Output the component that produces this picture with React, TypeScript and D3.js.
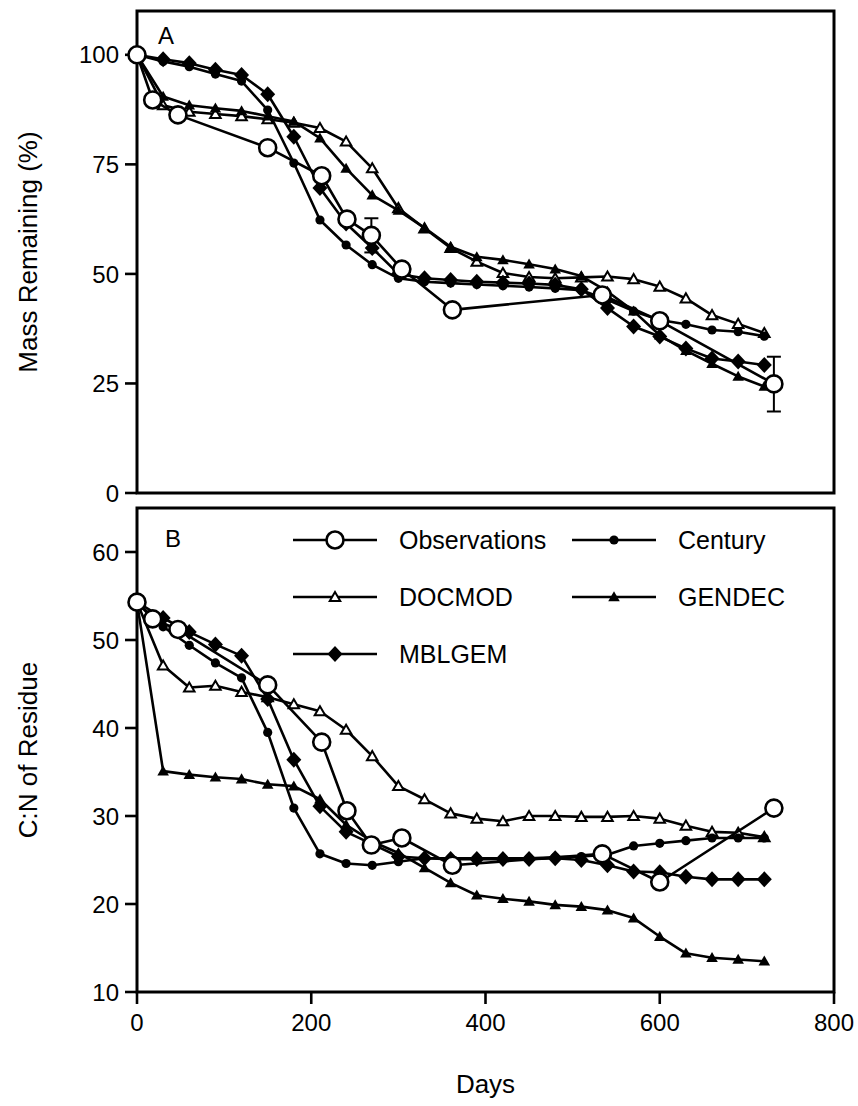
import * as d3 from 'd3';

const modelDays = [0, 30, 60, 90, 120, 150, 180, 210, 240, 270, 300, 330, 360, 390, 420, 450, 480, 510, 540, 570, 600, 630, 660, 690, 720];

// panel A: mass remaining (%)
const centuryA = [100, 98.5, 97.3, 95.6, 94.0, 87.4, 75.3, 62.3, 56.6, 52.1, 49.0, 48.2, 47.9, 47.6, 47.3, 47.0, 46.7, 46.3, 44.1, 41.5, 39.5, 38.5, 37.2, 36.8, 35.8];
const docmodA = [100, 88.5, 87.0, 86.5, 86.0, 85.3, 84.5, 83.3, 80.2, 74.1, 65.0, 60.4, 55.9, 52.8, 50.2, 49.3, 49.0, 49.2, 49.4, 48.8, 47.1, 44.4, 40.6, 38.6, 36.5];
const gendecA = [100, 90.5, 88.5, 87.8, 87.2, 86.0, 84.8, 81.0, 74.1, 68.0, 64.5, 60.5, 56.2, 53.9, 53.2, 52.2, 51.1, 49.5, 46.0, 41.5, 36.0, 32.5, 29.5, 26.6, 24.3];
const mblgemA = [100, 99.0, 98.1, 96.6, 95.4, 91.0, 81.3, 69.6, 61.5, 55.9, 50.0, 49.0, 48.6, 48.2, 48.0, 47.8, 47.5, 46.5, 42.2, 38.0, 35.7, 33.0, 30.7, 30.0, 29.2];

// panel B: C:N of residue
const centuryB = [54.3, 51.5, 49.4, 47.4, 45.7, 39.5, 30.9, 25.7, 24.6, 24.4, 24.8, 25.2, 25.2, 25.2, 25.2, 25.2, 25.3, 25.4, 25.6, 26.6, 26.9, 27.2, 27.5, 27.5, 27.5];
const docmodB = [54.3, 47.1, 44.6, 44.8, 44.1, 43.5, 42.7, 41.9, 39.8, 36.8, 33.4, 31.9, 30.3, 29.7, 29.4, 30.0, 30.0, 29.9, 29.9, 30.0, 29.7, 28.9, 28.2, 28.1, 27.6];
const gendecB = [54.3, 35.1, 34.7, 34.4, 34.2, 33.6, 33.4, 31.9, 29.0, 27.1, 25.8, 24.1, 22.4, 21.0, 20.6, 20.3, 19.9, 19.7, 19.3, 18.4, 16.3, 14.4, 13.9, 13.7, 13.5];
const mblgemB = [54.3, 52.5, 50.9, 49.5, 48.2, 43.3, 36.4, 31.1, 28.2, 26.8, 25.4, 25.2, 25.1, 25.1, 25.1, 25.1, 25.2, 25.0, 24.4, 23.7, 23.6, 23.1, 22.8, 22.8, 22.8];

const obsDays = [0, 18, 47, 150, 212, 241, 269, 304, 362, 534, 600, 731];
const obsA = [100, 89.7, 86.3, 78.8, 72.4, 62.5, 58.8, 51.1, 41.8, 45.2, 39.3, 24.9];
const obsB = [54.3, 52.4, 51.2, 44.9, 38.4, 30.6, 26.7, 27.5, 24.4, 25.7, 22.5, 30.9];

// error bars on observations (panel A)
const errDays = [269, 731];
const errLow = [54.9, 18.6];
const errHigh = [62.7, 31.1];

const xTicks = [0, 200, 400, 600, 800];
const yTicksA = [0, 25, 50, 75, 100];
const yTicksB = [10, 20, 30, 40, 50, 60];

const FONT = '"Liberation Sans", Arial, Helvetica, sans-serif';

type Kind = 'obs' | 'century' | 'docmod' | 'gendec' | 'mblgem';

const Marker = ({ kind, x, y }: { kind: Kind; x: number; y: number }) => {
  if (kind === 'obs') return <circle cx={x} cy={y} r={8.5} fill="#fff" stroke="#000" strokeWidth={2.6} />;
  if (kind === 'century') return <circle cx={x} cy={y} r={4.6} fill="#000" />;
  if (kind === 'mblgem') return <path d="M0,-8L7.5,0L0,8L-7.5,0Z" transform={`translate(${x},${y})`} fill="#000" />;
  const tri = d3.symbol(d3.symbolTriangle, kind === 'gendec' ? 58 : 48)() as string;
  return kind === 'gendec'
    ? <path d={tri} transform={`translate(${x},${y + 1})`} fill="#000" />
    : <path d={tri} transform={`translate(${x},${y + 1})`} fill="#fff" stroke="#000" strokeWidth={2} />;
};

const x = d3.scaleLinear().domain([0, 800]).range([137, 834]);
const yA = d3.scaleLinear().domain([0, 110]).range([493, 11]);
const yB = d3.scaleLinear().domain([10, 65]).range([992, 508]);

const Series = ({ days, vals, y, kind }: { days: number[]; vals: number[]; y: d3.ScaleLinear<number, number>; kind: Kind }) => {
  const line = d3.line<number>().x((_, i) => x(days[i])).y(d => y(d));
  return (
    <g>
      <path d={line(vals) as string} fill="none" stroke="#000" strokeWidth={2.6} strokeLinejoin="round" />
      {vals.map((v, i) => <Marker key={i} kind={kind} x={x(days[i])} y={y(v)} />)}
    </g>
  );
};

const legendItems: { label: string; kind: Kind }[] = [
  { label: 'Observations', kind: 'obs' },
  { label: 'Century', kind: 'century' },
  { label: 'DOCMOD', kind: 'docmod' },
  { label: 'GENDEC', kind: 'gendec' },
  { label: 'MBLGEM', kind: 'mblgem' },
];

export default function App() {
  const [x0, x1] = x.range();
  return (
    <svg width={858} height={1106} style={{ position: 'absolute', left: 0, top: 0, background: '#fff' }} fontFamily={FONT}>
      <rect width={858} height={1106} fill="#fff" />

      {/* panel A */}
      <rect x={x0} y={yA.range()[1]} width={x1 - x0} height={yA.range()[0] - yA.range()[1]} fill="none" stroke="#000" strokeWidth={3} />
      {yTicksA.map(t => (
        <g key={t}>
          <line x1={x0 - 12} x2={x0} y1={yA(t)} y2={yA(t)} stroke="#000" strokeWidth={2.6} />
          <text x={x0 - 18} y={yA(t)} dy="0.36em" textAnchor="end" fontSize={24}>{t}</text>
        </g>
      ))}
      <text x={158} y={44} fontSize={24}>A</text>
      <text transform={`translate(28,${(yA.range()[0] + yA.range()[1]) / 2}) rotate(-90)`} dy="0.36em" textAnchor="middle" fontSize={26}>Mass Remaining (%)</text>

      <Series days={modelDays} vals={docmodA} y={yA} kind="docmod" />
      <Series days={modelDays} vals={gendecA} y={yA} kind="gendec" />
      <Series days={modelDays} vals={centuryA} y={yA} kind="century" />
      <Series days={modelDays} vals={mblgemA} y={yA} kind="mblgem" />
      {errDays.map((d, i) => (
        <g key={d} stroke="#000" strokeWidth={2}>
          <line x1={x(d)} x2={x(d)} y1={yA(errLow[i])} y2={yA(errHigh[i])} />
          <line x1={x(d) - 7} x2={x(d) + 7} y1={yA(errLow[i])} y2={yA(errLow[i])} />
          <line x1={x(d) - 7} x2={x(d) + 7} y1={yA(errHigh[i])} y2={yA(errHigh[i])} />
        </g>
      ))}
      <Series days={obsDays} vals={obsA} y={yA} kind="obs" />

      {/* panel B */}
      <rect x={x0} y={yB.range()[1]} width={x1 - x0} height={yB.range()[0] - yB.range()[1]} fill="none" stroke="#000" strokeWidth={3} />
      {yTicksB.map(t => (
        <g key={t}>
          <line x1={x0 - 12} x2={x0} y1={yB(t)} y2={yB(t)} stroke="#000" strokeWidth={2.6} />
          <text x={x0 - 18} y={yB(t)} dy="0.36em" textAnchor="end" fontSize={24}>{t}</text>
        </g>
      ))}
      {xTicks.map(t => (
        <g key={t}>
          <line x1={x(t)} x2={x(t)} y1={yB.range()[0]} y2={yB.range()[0] + 12} stroke="#000" strokeWidth={2.6} />
          <text x={x(t)} y={1031} textAnchor="middle" fontSize={24}>{t}</text>
        </g>
      ))}
      <text x={165} y={547} fontSize={24}>B</text>
      <text transform={`translate(28,${(yB.range()[0] + yB.range()[1]) / 2}) rotate(-90)`} dy="0.36em" textAnchor="middle" fontSize={26}>C:N of Residue</text>
      <text x={(x0 + x1) / 2} y={1093} textAnchor="middle" fontSize={26}>Days</text>

      <Series days={modelDays} vals={docmodB} y={yB} kind="docmod" />
      <Series days={modelDays} vals={gendecB} y={yB} kind="gendec" />
      <Series days={modelDays} vals={centuryB} y={yB} kind="century" />
      <Series days={modelDays} vals={mblgemB} y={yB} kind="mblgem" />
      <Series days={obsDays} vals={obsB} y={yB} kind="obs" />

      {/* legend */}
      {legendItems.map((it, i) => {
        const col = i % 2;
        const row = Math.floor(i / 2);
        const lx = col === 0 ? 293 : 572;
        const ly = 540 + row * 57;
        return (
          <g key={it.label}>
            <line x1={lx} x2={lx + 84} y1={ly} y2={ly} stroke="#000" strokeWidth={2.6} />
            <Marker kind={it.kind} x={lx + 42} y={ly} />
            <text x={lx + 106} y={ly} dy="0.36em" fontSize={25}>{it.label}</text>
          </g>
        );
      })}
    </svg>
  );
}
